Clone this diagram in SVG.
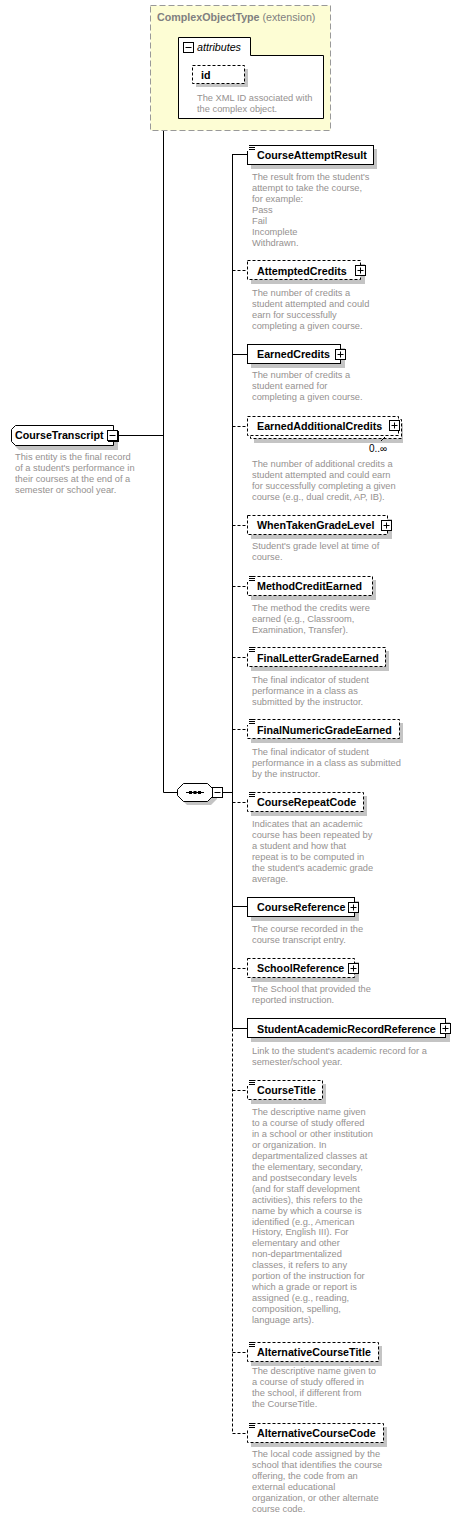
<svg xmlns="http://www.w3.org/2000/svg" width="474" height="1519" viewBox="0 0 474 1519">
<defs>
<style>
.nm{font-family:"Liberation Sans",Arial,sans-serif;font-weight:bold;font-size:10.7px;fill:#000}
.ds{font-family:"Liberation Sans",Arial,sans-serif;font-size:9.3px;fill:#959190}
.box{fill:#fff;stroke:#000;stroke-width:1}
.dbox{fill:#fff;stroke:#000;stroke-width:1;stroke-dasharray:3,2}
.sh{fill:#c4c4c4}
.ln{stroke:#000;stroke-width:1;fill:none}
.dln{stroke:#000;stroke-width:1;fill:none;stroke-dasharray:3,2}
.ico{fill:#fff;stroke:#000;stroke-width:1}
</style>
<g id="plus"><rect class="ico" x="0.5" y="0.5" width="10" height="10"/><path class="ln" d="M2.5,5.5H8.5M5.5,2.5V8.5"/></g>
<g id="minus"><rect class="ico" x="0.5" y="0.5" width="10" height="10"/><path class="ln" d="M2.5,5.5H8.5"/></g>
<g id="eq"><rect x="0" y="0" width="8" height="7" fill="#fff"/><path class="ln" d="M2,1.5H8M2,3.5H8M2,5.5H8"/></g>
</defs>

<g id="connectors">
<path class="ln" d="M163.5,79V792.5M163.5,79.5H178M118,435.5H163.5M163.5,792.5H177M223,792.5H232.5"/>
<path class="ln" d="M232.5,154V1028.5"/>
<path class="dln" d="M232.5,1028.5V1433"/>
<path class="ln" d="M232.5,154.5H247M232.5,354.5H247M232.5,906.5H247M232.5,1028.5H247"/>
<path class="dln" d="M232.5,270.5H247M232.5,426.5H247M232.5,525.5H247M232.5,586.5H247M232.5,657.5H247M232.5,729.5H247M232.5,802.5H247M232.5,968.5H247M232.5,1090.5H247M232.5,1352.5H247M232.5,1433.5H247"/>
</g>

<g id="ComplexObjectType">
<rect x="150.5" y="5.5" width="180" height="125" fill="#fdfdd4" stroke="#999" stroke-dasharray="6,3"/>
<text x="157" y="21" font-family="Liberation Sans,Arial,sans-serif" font-size="10.7px" fill="#808080"><tspan font-weight="bold">ComplexObjectType</tspan> (extension)</text>
</g>
<g id="attributes">
<path d="M178.5,37.5H250.5V55.5H323.5V118.5H178.5Z" fill="#fff" stroke="#000"/>
<use href="#minus" x="183" y="42"/>
<text x="197" y="51" font-family="Liberation Sans,Arial,sans-serif" font-style="italic" font-size="10.7px">attributes</text>
</g>
<g id="id">
<rect class="sh" x="196" y="69" width="52" height="18"/>
<rect class="dbox" x="192.5" y="65.5" width="52" height="18"/>
<text class="nm" x="201" y="79">id</text>
<text class="ds" x="197" y="101">The XML ID associated with<tspan x="197" dy="10.5">the complex object.</tspan></text>
</g>

<g id="CourseTranscript">
<path class="sh" d="M19,430H118V450H19L15,446V434Z"/>
<path d="M15.5,425.5H113.5V445.5H15.5L11.5,441.5V429.5Z" fill="#fff" stroke="#000"/>
<text class="nm" x="15" y="439">CourseTranscript</text>
<rect x="108" y="431" width="11" height="11"/>
<use href="#minus" x="107" y="430"/>
<text class="ds" x="15" y="460">This entity is the final record<tspan x="15" dy="11">of a student's performance in</tspan><tspan x="15" dy="11">their courses at the end of a</tspan><tspan x="15" dy="11">semester or school year.</tspan></text>
</g>

<g id="sequence">
<path class="sh" d="M187,787H211L217,793V799L211,805H187L181,799V793Z"/>
<path d="M183.5,783.5H207.5L213.5,789.5V795.5L207.5,801.5H183.5L177.5,795.5V789.5Z" fill="#fff" stroke="#000"/>
<path class="ln" d="M186,792.5H204"/>
<rect x="189" y="791" width="3" height="3"/><rect x="193.5" y="791" width="3" height="3"/><rect x="198" y="791" width="3" height="3"/>
<use href="#minus" x="212" y="787"/>
</g>

<g id="CourseAttemptResult">
<rect class="sh" x="251" y="149" width="126" height="20"/>
<rect class="box" x="247.5" y="145.5" width="126" height="19"/>
<use href="#eq" x="247" y="144"/>
<text class="nm" x="257" y="159">CourseAttemptResult</text>
<text class="ds" x="252" y="180">The result from the student's<tspan x="252" dy="11">attempt to take the course,</tspan><tspan x="252" dy="11">for example:</tspan><tspan x="252" dy="11">Pass</tspan><tspan x="252" dy="11">Fail</tspan><tspan x="252" dy="11">Incomplete</tspan><tspan x="252" dy="11">Withdrawn.</tspan></text>
</g>

<g id="AttemptedCredits">
<rect class="sh" x="251" y="264" width="114" height="20"/>
<rect class="dbox" x="247.5" y="260.5" width="113" height="19"/>
<text class="nm" x="257" y="275">AttemptedCredits</text>
<use href="#plus" x="355" y="265"/>
<text class="ds" x="252" y="296">The number of credits a<tspan x="252" dy="11">student attempted and could</tspan><tspan x="252" dy="11">earn for successfully</tspan><tspan x="252" dy="11">completing a given course.</tspan></text>
</g>

<g id="EarnedCredits">
<rect class="sh" x="251" y="348" width="94" height="20"/>
<rect class="box" x="247.5" y="344.5" width="93" height="19"/>
<text class="nm" x="257" y="358">EarnedCredits</text>
<use href="#plus" x="335" y="349"/>
<text class="ds" x="252" y="378">The number of credits a<tspan x="252" dy="11">student earned for</tspan><tspan x="252" dy="11">completing a given course.</tspan></text>
</g>

<g id="EarnedAdditionalCredits">
<rect class="sh" x="254" y="423" width="149" height="20"/>
<rect class="dbox" x="250.5" y="419.5" width="151" height="19"/>
<rect class="dbox" x="247.5" y="416.5" width="151" height="19"/>
<text class="nm" x="257" y="430">EarnedAdditionalCredits</text>
<use href="#plus" x="389" y="420"/>
<path class="ln" d="M381,441L385,437"/>
<text x="369" y="452" font-family="Liberation Sans,Arial,sans-serif" font-size="10px" fill="#000">0..∞</text>
<text class="ds" x="252" y="467">The number of additional credits a<tspan x="252" dy="11">student attempted and could earn</tspan><tspan x="252" dy="11">for successfully completing a given</tspan><tspan x="252" dy="11">course (e.g., dual credit, AP, IB).</tspan></text>
</g>

<g id="WhenTakenGradeLevel">
<rect class="sh" x="251" y="519" width="141" height="20"/>
<rect class="dbox" x="247.5" y="515.5" width="140" height="19"/>
<text class="nm" x="257" y="529">WhenTakenGradeLevel</text>
<use href="#plus" x="381" y="520"/>
<text class="ds" x="252" y="549">Student's grade level at time of<tspan x="252" dy="11">course.</tspan></text>
</g>

<g id="MethodCreditEarned">
<rect class="sh" x="251" y="580" width="125" height="20"/>
<rect class="dbox" x="247.5" y="576.5" width="125" height="19"/>
<use href="#eq" x="247" y="575"/>
<text class="nm" x="257" y="590">MethodCreditEarned</text>
<text class="ds" x="252" y="611">The method the credits were<tspan x="252" dy="11">earned (e.g., Classroom,</tspan><tspan x="252" dy="11">Examination, Transfer).</tspan></text>
</g>

<g id="FinalLetterGradeEarned">
<rect class="sh" x="251" y="651" width="138" height="20"/>
<rect class="dbox" x="247.5" y="647.5" width="138" height="19"/>
<use href="#eq" x="247" y="646"/>
<text class="nm" x="257" y="662">FinalLetterGradeEarned</text>
<text class="ds" x="252" y="683">The final indicator of student<tspan x="252" dy="11">performance in a class as</tspan><tspan x="252" dy="11">submitted by the instructor.</tspan></text>
</g>

<g id="FinalNumericGradeEarned">
<rect class="sh" x="251" y="723" width="152" height="20"/>
<rect class="dbox" x="247.5" y="719.5" width="152" height="19"/>
<use href="#eq" x="247" y="718"/>
<text class="nm" x="257" y="734">FinalNumericGradeEarned</text>
<text class="ds" x="252" y="755">The final indicator of student<tspan x="252" dy="11">performance in a class as submitted</tspan><tspan x="252" dy="11">by the instructor.</tspan></text>
</g>

<g id="CourseRepeatCode">
<rect class="sh" x="251" y="796" width="116" height="20"/>
<rect class="dbox" x="247.5" y="792.5" width="116" height="19"/>
<use href="#eq" x="247" y="791"/>
<text class="nm" x="257" y="806">CourseRepeatCode</text>
<text class="ds" x="252" y="827">Indicates that an academic<tspan x="252" dy="11">course has been repeated by</tspan><tspan x="252" dy="11">a student and how that</tspan><tspan x="252" dy="11">repeat is to be computed in</tspan><tspan x="252" dy="11">the student's academic grade</tspan><tspan x="252" dy="11">average.</tspan></text>
</g>

<g id="CourseReference">
<rect class="sh" x="251" y="901" width="108" height="20"/>
<rect class="box" x="247.5" y="897.5" width="107" height="19"/>
<text class="nm" x="257" y="911">CourseReference</text>
<use href="#plus" x="348" y="902"/>
<text class="ds" x="252" y="932">The course recorded in the<tspan x="252" dy="11">course transcript entry.</tspan></text>
</g>

<g id="SchoolReference">
<rect class="sh" x="251" y="962" width="108" height="20"/>
<rect class="dbox" x="247.5" y="958.5" width="107" height="19"/>
<text class="nm" x="257" y="972">SchoolReference</text>
<use href="#plus" x="348" y="963"/>
<text class="ds" x="252" y="992">The School that provided the<tspan x="252" dy="11">reported instruction.</tspan></text>
</g>

<g id="StudentAcademicRecordReference">
<rect class="sh" x="251" y="1022" width="199" height="20"/>
<rect class="box" x="247.5" y="1018.5" width="198" height="19"/>
<text class="nm" x="257" y="1033">StudentAcademicRecordReference</text>
<use href="#plus" x="440" y="1023"/>
<text class="ds" x="252" y="1054">Link to the student's academic record for a<tspan x="252" dy="11">semester/school year.</tspan></text>
</g>

<g id="CourseTitle">
<rect class="sh" x="251" y="1084" width="75" height="20"/>
<rect class="dbox" x="247.5" y="1080.5" width="75" height="19"/>
<use href="#eq" x="247" y="1079"/>
<text class="nm" x="257" y="1094">CourseTitle</text>
<text class="ds" x="252" y="1115">The descriptive name given<tspan x="252" dy="10.95">to a course of study offered</tspan><tspan x="252" dy="10.95">in a school or other institution</tspan><tspan x="252" dy="10.95">or organization. In</tspan><tspan x="252" dy="10.95">departmentalized classes at</tspan><tspan x="252" dy="10.95">the elementary, secondary,</tspan><tspan x="252" dy="10.95">and postsecondary levels</tspan><tspan x="252" dy="10.95">(and for staff development</tspan><tspan x="252" dy="10.95">activities), this refers to the</tspan><tspan x="252" dy="10.95">name by which a course is</tspan><tspan x="252" dy="10.95">identified (e.g., American</tspan><tspan x="252" dy="10.95">History, English III). For</tspan><tspan x="252" dy="10.95">elementary and other</tspan><tspan x="252" dy="10.95">non-departmentalized</tspan><tspan x="252" dy="10.95">classes, it refers to any</tspan><tspan x="252" dy="10.95">portion of the instruction for</tspan><tspan x="252" dy="10.95">which a grade or report is</tspan><tspan x="252" dy="10.95">assigned (e.g., reading,</tspan><tspan x="252" dy="10.95">composition, spelling,</tspan><tspan x="252" dy="10.95">language arts).</tspan></text>
</g>

<g id="AlternativeCourseTitle">
<rect class="sh" x="251" y="1346" width="131" height="20"/>
<rect class="dbox" x="247.5" y="1342.5" width="131" height="19"/>
<use href="#eq" x="247" y="1341"/>
<text class="nm" x="257" y="1356">AlternativeCourseTitle</text>
<text class="ds" x="252" y="1374">The descriptive name given to<tspan x="252" dy="11">a course of study offered in</tspan><tspan x="252" dy="11">the school, if different from</tspan><tspan x="252" dy="11">the CourseTitle.</tspan></text>
</g>

<g id="AlternativeCourseCode">
<rect class="sh" x="251" y="1427" width="136" height="20"/>
<rect class="dbox" x="247.5" y="1423.5" width="136" height="19"/>
<use href="#eq" x="247" y="1422"/>
<text class="nm" x="257" y="1437">AlternativeCourseCode</text>
<text class="ds" x="252" y="1457">The local code assigned by the<tspan x="252" dy="11">school that identifies the course</tspan><tspan x="252" dy="11">offering, the code from an</tspan><tspan x="252" dy="11">external educational</tspan><tspan x="252" dy="11">organization, or other alternate</tspan><tspan x="252" dy="11">course code.</tspan></text>
</g>
</svg>
